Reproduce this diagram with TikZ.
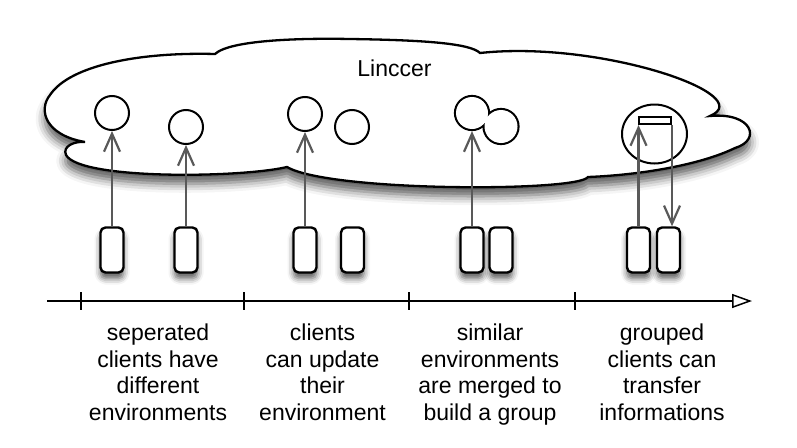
\documentclass[tikz,border=0pt]{standalone}
\usepackage{fontspec}
\setmainfont{Liberation Sans}
\usetikzlibrary{positioning}
\usetikzlibrary{arrows.meta}
\usetikzlibrary{shapes.geometric}
\usetikzlibrary{shadows.blur}
\tikzset{
  softshadow/.style={blur shadow={shadow xshift=0pt,shadow yshift=-#1,shadow blur radius=#1,shadow opacity=65}},
  client/.style={draw,fill=white,line width=2.4pt,rounded corners=5pt,minimum width=23pt,minimum height=45pt,inner sep=0pt,softshadow=6pt},
  env/.style={draw,circle,line width=2pt,minimum size=34pt,inner sep=0pt},
  envmerge/.style={draw,circle,line width=4.2pt,minimum size=32pt,inner sep=0pt},
  link/.style={draw=black!65,line width=2.2pt,-{Straight Barb[length=18pt,width=16pt]}},
  phase/.style={align=center,font=\fontsize{23}{26.7}\selectfont,inner sep=0pt,anchor=north},
  tick/.style={line width=1.5pt}
}

\begin{document}
\begin{tikzpicture}[x=1pt,y=-1pt]
  \useasboundingbox (0,0) rectangle (797,447);
  % Linccer cloud
  \draw[line width=2.3pt,fill=white,softshadow=9pt]
    (85,142) .. controls (45,135) and (38,110) .. (50,95)
    .. controls (70,65) and (140,52) .. (215,54)
    .. controls (230,40) and (300,38) .. (350,39)
    .. controls (420,40) and (470,43) .. (480,53)
    .. controls (600,40) and (760,95) .. (710,116)
    .. controls (752,112) and (762,140) .. (735,148)
    .. controls (700,165) and (640,175) .. (588,177)
    .. controls (578,192) and (330,192) .. (287,167)
    .. controls (240,178) and (80,180) .. (66,155)
    .. controls (62,146) and (75,141) .. (85,142) -- cycle;
  \node at (394.5,76) [anchor=base,font=\fontsize{23}{26}\selectfont,inner sep=0pt] (nlinccer) {Linccer};
  % clients
  \node at (112,250) [client] (c1) {};
  \node at (186,250) [client] (c2) {};
  \node at (305,250) [client] (c3) {};
  \node at (352.5,250) [client] (c4) {};
  \node at (472,250) [client] (c5) {};
  \node at (501,250) [client] (c6) {};
  \node at (638.5,250) [client] (c7) {};
  \node at (668.5,250) [client] (c8) {};
  % environments
  \node at (112,113) [env] (e1) {};
  \node at (186,127) [env] (e2) {};
  \node at (305,114) [env] (e3) {};
  \node at (352,127) [env] (e4) {};
  % merged environment
  \node at (472,113) [envmerge] (m1) {};
  \node at (501,126.5) [envmerge,minimum size=33pt] (m2) {};
  \fill[white] (m1.center) circle (16) (m2.center) circle (16.5);
  % group
  \node at (654.5,134) [draw,ellipse,line width=2pt,minimum width=65pt,minimum height=59pt,inner sep=0pt] (g) {};
  \node at (655,120.5) [draw,line width=2pt,minimum width=32pt,minimum height=7pt,inner sep=0pt] (r) {};
  % arrows from clients
  \draw[link] (c1.north) -- (e1.south);
  \draw[link] (c2.north) -- (e2.south);
  \draw[link] (c3.north) -- (e3.south);
  \draw[link] (c5.north) -- (m1.south);
  \draw[link] (c7.north) -- (c7.north |- r.south);
  \draw[link] (r.south east) -- (r.south east |- c8.north);
  % time line
  \coordinate (tstart) at (47,301);
  \coordinate (tend) at (752,301);
  \draw[line width=1.5pt,-{Triangle[open,length=20pt,width=14pt]}] (tstart) -- (tend);
  \foreach \x in {81,244,409,575}
    \draw[tick] (\x,292) -- (\x,310);
  % phases
  \node at (158,323.5) [phase] (t1) {seperated\\clients have\\different\\environments};
  \node at (322.5,323.5) [phase] (t2) {clients\\can update\\their\\environment};
  \node at (490,323.5) [phase] (t3) {similar\\environments\\are merged to\\build a group};
  \node at (662,323.5) [phase] (t4) {grouped\\clients can\\transfer\\informations};
\end{tikzpicture}
\end{document}
